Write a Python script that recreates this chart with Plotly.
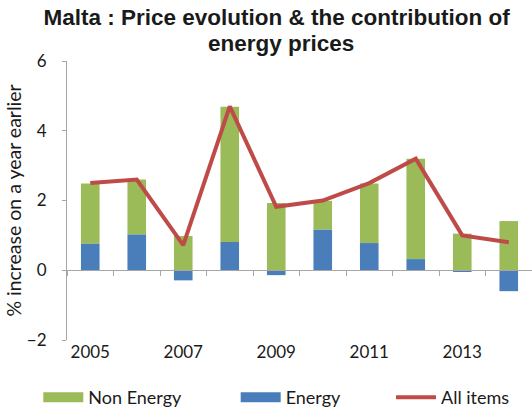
import plotly.graph_objects as go

years = ["2005", "2006", "2007", "2008", "2009", "2010", "2011", "2012", "2013", "2014"]
energy = [0.77, 1.03, -0.29, 0.81, -0.14, 1.17, 0.78, 0.32, -0.05, -0.60]
non_energy = [1.72, 1.57, 0.98, 3.88, 1.93, 0.82, 1.71, 2.88, 1.05, 1.41]
all_items = [2.5, 2.6, 0.72, 4.7, 1.82, 2.0, 2.5, 3.2, 1.0, 0.8]
x_labels = ["2005", "2007", "2009", "2011", "2013"]

GREEN = "#9BBB59"
BLUE = "#4A7EBB"
RED = "#BE4B48"
AXIS = "#A6A6A6"
TXT = "#1a1a1a"
FONT = "Lato"

fig = go.Figure()
fig.add_trace(go.Bar(x=years, y=energy, name="Energy", marker=dict(color=BLUE, line=dict(width=0)),
                     showlegend=False, width=0.4))
fig.add_trace(go.Bar(x=years, y=non_energy, name="Non Energy", marker=dict(color=GREEN, line=dict(width=0)),
                     showlegend=False, width=0.4))
fig.add_trace(go.Scatter(x=years, y=all_items, name="All items", mode="lines", xaxis="x2",
                         line=dict(color=RED, width=4), showlegend=False))
# legend entries
fig.add_trace(go.Scatter(x=[None], y=[None], name="Non Energy", mode="lines",
                         line=dict(color=GREEN, width=11), legend="legend"))
fig.add_trace(go.Scatter(x=[None], y=[None], name="Energy", mode="lines",
                         line=dict(color=BLUE, width=11), legend="legend2"))
fig.add_trace(go.Scatter(x=[None], y=[None], name="All items", mode="lines",
                         line=dict(color=RED, width=4), legend="legend3"))

leg = dict(orientation="h", xanchor="left", xref="container", yref="container",
           y=0.035, yanchor="middle", itemwidth=40,
           font=dict(family=FONT, size=18, color=TXT), bgcolor="rgba(0,0,0,0)")

fig.update_layout(
    width=532, height=412,
    margin=dict(l=67, r=0, t=61, b=72),
    paper_bgcolor="white", plot_bgcolor="white",
    barmode="relative",
    title=dict(text="<b>Malta : Price evolution & the contribution of</b>",
               font=dict(family="Liberation Sans", size=22.5, color=TXT),
               x=0.52, xanchor="center", xref="container", y=0.939, yanchor="bottom", yref="container"),
    xaxis=dict(type="category", categoryarray=years, categoryorder="array", automargin=False,
               showline=False, ticks="", showgrid=False, zeroline=False,
               tickvals=x_labels, ticktext=x_labels,
               tickfont=dict(family=FONT, size=17, color=TXT)),
    xaxis2=dict(type="category", categoryarray=years, categoryorder="array", matches="x",
                overlaying="x", anchor="free", position=0.25, side="bottom", automargin=False,
                showline=True, linecolor=AXIS, linewidth=1, ticks="outside", tickson="boundaries",
                ticklen=5, tickcolor=AXIS, showticklabels=False, showgrid=False, zeroline=False),
    yaxis=dict(range=[-2, 6], dtick=2, showgrid=False, zeroline=False, automargin=False,
               showline=True, linecolor=AXIS, linewidth=1, ticks="outside", ticklen=4, tickcolor=AXIS,
               ticklabelstandoff=12,
               tickfont=dict(family=FONT, size=17, color=TXT),
               title=dict(text="% increase on a year earlier", standoff=0,
                          font=dict(family=FONT, size=19.5, color=TXT))),
    legend=dict(leg, x=0.072),
    legend2=dict(leg, x=0.443),
    legend3=dict(leg, x=0.735),
    annotations=[dict(text="<b>energy prices</b>", xref="paper", yref="paper",
                      x=(281 - 67) / 465, y=1.0125, xanchor="center", yanchor="bottom",
                      showarrow=False, font=dict(family="Liberation Sans", size=22.5, color=TXT))],
)

fig.write_html("out.html", config={"displayModeBar": False},
               post_script="document.body.style.margin='0';")
